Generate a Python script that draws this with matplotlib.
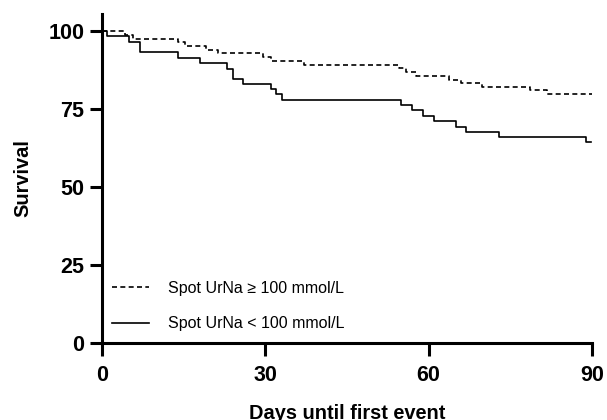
import matplotlib
matplotlib.use("Agg")
import matplotlib.pyplot as plt

# Kaplan-Meier step data (days, survival %)
days_high = [0, 4.2, 5.7, 14.0, 15.2, 19.2, 21.3, 29.6, 31.1, 37.2,
             54.6, 55.8, 57.7, 63.8, 65.9, 69.9, 78.7, 81.8, 90.0]
surv_high = [100, 98.7, 97.6, 96.6, 95.3, 94.1, 92.9, 91.8, 90.5, 89.3,
             88.2, 87.0, 85.7, 84.4, 83.4, 82.2, 81.1, 79.8, 79.8]

days_low = [0, 0.9, 5.0, 7.0, 14.0, 18.0, 23.0, 24.1, 26.0, 31.0, 31.9,
            33.0, 54.9, 56.9, 58.9, 61.0, 65.0, 66.9, 72.9, 88.9, 89.9]
surv_low = [100, 98.5, 96.6, 93.2, 91.5, 89.7, 88.0, 84.6, 83.2, 81.3,
            79.8, 77.9, 76.3, 74.7, 72.9, 71.3, 69.4, 67.7, 66.0, 64.4, 64.4]

x_ticks = [0, 30, 60, 90]
y_ticks = [0, 25, 50, 75, 100]

label_high = "Spot UrNa \u2265 100 mmol/L"
label_low = "Spot UrNa < 100 mmol/L"

plt.rcParams["font.family"] = ["Liberation Sans", "DejaVu Sans"]

fig = plt.figure(figsize=(6.07, 4.20), dpi=100)
ax = fig.add_axes([0.168, 0.1833, 0.807, 0.7834])

ax.step(days_high, surv_high, where="post", color="black", lw=1.2,
        linestyle=(0, (3, 2)), label=label_high)
ax.step(days_low, surv_low, where="post", color="black", lw=1.2,
        label=label_low)

ax.set_xlim(0, 90)
ax.set_ylim(0, 105.5)
ax.set_xticks(x_ticks)
ax.set_yticks(y_ticks)

for side in ("top", "right"):
    ax.spines[side].set_visible(False)
for side in ("left", "bottom"):
    ax.spines[side].set_linewidth(2.2)

ax.tick_params(axis="both", direction="out", length=9, width=2.2,
               labelsize=15.5, color="black")
ax.tick_params(axis="y", pad=3.5)
ax.tick_params(axis="x", pad=7)
for lbl in ax.get_xticklabels() + ax.get_yticklabels():
    lbl.set_fontweight("bold")

ax.set_xlabel("Days until first event", fontsize=14.4, fontweight="bold",
              labelpad=13)
ax.set_ylabel("Survival", fontsize=14.4, fontweight="bold", labelpad=12)

ax.legend(loc="lower left", bbox_to_anchor=(0.02, 0.035), frameon=False,
          fontsize=11.5, handlelength=2.3, handletextpad=1.2,
          labelspacing=1.3, borderpad=0, borderaxespad=0)

fig.savefig("out.png", dpi=100)
